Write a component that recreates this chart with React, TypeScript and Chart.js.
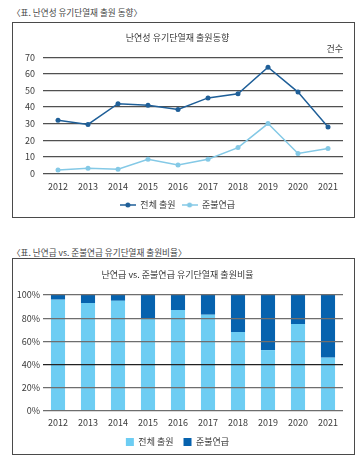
import React, { useEffect, useRef } from 'react';
import { Chart, registerables } from 'chart.js';

Chart.register(...registerables);

const years = ['2012', '2013', '2014', '2015', '2016', '2017', '2018', '2019', '2020', '2021'];
const totalFilings = [32, 29.5, 42, 41, 38.5, 45.5, 48, 64, 49, 28];
const quasiFilings = [2, 3, 2.5, 8.5, 5, 8.5, 15.5, 30, 12, 15];
const totalShare = [96, 93, 95, 80, 87, 83, 68, 52.5, 75, 46];
const quasiShare = [4, 7, 5, 20, 13, 17, 32, 47.5, 25, 54];

const seriesNames = ['전체 출원', '준불연급'];
const lineTitle = '난연성 유기단열재 출원동향';
const barTitle = '난연급 vs. 준불연급 유기단열재 출원비율';
const lineCaption = '〈표. 난연성 유기단열재 출원 동향〉';
const barCaption = '〈표. 난연급 vs. 준불연급 유기단열재 출원비율〉';
const unitLabel = '건수';

const FONT = "'Noto Sans CJK KR', 'Noto Sans', sans-serif";
const DARK_LINE = '#1f5f98';
const LIGHT_LINE = '#84c9e6';
const LIGHT_BAR = '#6dcdf3';
const DARK_BAR = '#0662ae';
const TEXT = '#3a3a3a';

function legendMarker(color: string): HTMLCanvasElement {
  const c = document.createElement('canvas');
  c.width = 16;
  c.height = 6;
  const ctx = c.getContext('2d')!;
  ctx.strokeStyle = color;
  ctx.lineWidth = 1.5;
  ctx.beginPath();
  ctx.moveTo(0, 3);
  ctx.lineTo(16, 3);
  ctx.stroke();
  ctx.fillStyle = color;
  ctx.beginPath();
  ctx.arc(8, 3, 2.5, 0, Math.PI * 2);
  ctx.fill();
  return c;
}

function LineChart() {
  const ref = useRef<HTMLCanvasElement | null>(null);
  useEffect(() => {
    if (!ref.current) return;
    const markers = [legendMarker(DARK_LINE), legendMarker(LIGHT_LINE)];
    const unitPlugin = {
      id: 'unitLabel',
      afterDraw(chart: any) {
        const { ctx, chartArea } = chart;
        ctx.save();
        ctx.font = `9px ${FONT}`;
        ctx.fillStyle = TEXT;
        ctx.textAlign = 'right';
        ctx.textBaseline = 'middle';
        ctx.fillText(unitLabel, chartArea.right, chartArea.top - 8.5);
        ctx.restore();
      },
    };
    const chart = new Chart(ref.current, {
      type: 'line',
      data: {
        labels: years,
        datasets: [
          {
            label: seriesNames[0],
            data: totalFilings,
            borderColor: DARK_LINE,
            backgroundColor: DARK_LINE,
            borderWidth: 1.5,
            pointRadius: 2.5,
            pointBorderWidth: 0,
            tension: 0,
          },
          {
            label: seriesNames[1],
            data: quasiFilings,
            borderColor: LIGHT_LINE,
            backgroundColor: LIGHT_LINE,
            borderWidth: 1.5,
            pointRadius: 2.5,
            pointBorderWidth: 0,
            tension: 0,
          },
        ],
      },
      options: {
        responsive: false,
        animation: false,
        devicePixelRatio: 1,
        layout: { padding: { left: 0, right: 13, top: 0, bottom: 3.5 } },
        plugins: {
          title: {
            display: true,
            text: lineTitle,
            color: TEXT,
            font: { family: FONT, size: 9, weight: 'normal' },
            padding: { top: 9.6, bottom: 13.9 },
          },
          legend: {
            position: 'bottom',
            labels: {
              color: TEXT,
              font: { family: FONT, size: 9 },
              usePointStyle: true,
              pointStyleWidth: 16,
              padding: 6,
              generateLabels: (c: any) => {
                const items = Chart.defaults.plugins.legend.labels.generateLabels(c);
                return items.map((it: any, i: number) => ({ ...it, pointStyle: markers[i] }));
              },
            },
          },
          tooltip: { enabled: false },
        },
        scales: {
          x: {
            offset: true,
            grid: { display: false, drawTicks: false },
            border: { display: false },
            ticks: { color: TEXT, font: { family: FONT, size: 9 }, padding: 8 },
            afterFit: (s: any) => { s.height = 21.2; },
          },
          y: {
            min: 0,
            max: 70,
            ticks: { stepSize: 10, color: TEXT, font: { family: FONT, size: 9 }, padding: 8 },
            grid: { color: '#505050', lineWidth: 1.3, drawTicks: false },
            border: { display: false },
            afterFit: (s: any) => { s.width = 31; },
          },
        },
      },
      plugins: [unitPlugin],
    } as any);
    return () => chart.destroy();
  }, []);
  return (
    <canvas
      ref={ref}
      width={344}
      height={200}
      style={{ position: 'absolute', left: 12, top: 23, width: 344, height: 200 }}
    />
  );
}

function BarChart() {
  const ref = useRef<HTMLCanvasElement | null>(null);
  useEffect(() => {
    if (!ref.current) return;
    const chart = new Chart(ref.current, {
      type: 'bar',
      data: {
        labels: years,
        datasets: [
          {
            label: seriesNames[0],
            data: totalShare,
            backgroundColor: LIGHT_BAR,
            barPercentage: 0.47,
            categoryPercentage: 1,
          },
          {
            label: seriesNames[1],
            data: quasiShare,
            backgroundColor: DARK_BAR,
            barPercentage: 0.47,
            categoryPercentage: 1,
          },
        ],
      },
      options: {
        responsive: false,
        animation: false,
        devicePixelRatio: 1,
        layout: { padding: { left: 0, right: 13, top: 0, bottom: 1.5 } },
        plugins: {
          title: {
            display: true,
            text: barTitle,
            color: TEXT,
            font: { family: FONT, size: 9, weight: 'normal' },
            padding: { top: 11.6, bottom: 14.6 },
          },
          legend: {
            position: 'bottom',
            labels: {
              color: TEXT,
              font: { family: FONT, size: 9 },
              boxWidth: 8,
              boxHeight: 8,
              padding: 10,
            },
          },
          tooltip: { enabled: false },
        },
        scales: {
          x: {
            stacked: true,
            grid: { display: false, drawTicks: false },
            border: { display: false },
            ticks: { color: TEXT, font: { family: FONT, size: 9 }, padding: 6.6 },
            afterFit: (s: any) => { s.height = 16.5; },
          },
          y: {
            stacked: true,
            min: 0,
            max: 100,
            ticks: {
              stepSize: 20,
              color: TEXT,
              font: { family: FONT, size: 9 },
              padding: 3,
              callback: (v: any) => `${v}%`,
            },
            grid: {
              color: (ctx: any) => (ctx.tick && ctx.tick.value === 40 ? '#222222' : '#6e6e6e'),
              lineWidth: 1.2,
              drawTicks: false,
              z: 1,
            },
            border: { display: false },
            afterFit: (s: any) => { s.width = 31; },
          },
        },
      },
    } as any);
    return () => chart.destroy();
  }, []);
  return (
    <canvas
      ref={ref}
      width={344}
      height={200}
      style={{ position: 'absolute', left: 12, top: 258, width: 344, height: 200 }}
    />
  );
}

const captionStyle: React.CSSProperties = {
  position: 'absolute',
  left: 12,
  fontFamily: FONT,
  fontSize: 8.6,
  lineHeight: '10px',
  color: '#444',
  whiteSpace: 'nowrap',
};

const boxStyle: React.CSSProperties = {
  position: 'absolute',
  left: 12,
  width: 343,
  border: '1px solid #4a4a4a',
  boxSizing: 'border-box',
};

export default function App() {
  return (
    <div style={{ position: 'absolute', left: 0, top: 0, width: 363, height: 464, background: '#fff', overflow: 'hidden' }}>
      <div style={{ ...captionStyle, top: 7 }}>{lineCaption}</div>
      <div style={{ ...boxStyle, top: 22, height: 196 }} />
      <LineChart />
      <div style={{ ...captionStyle, top: 247 }}>{barCaption}</div>
      <div style={{ ...boxStyle, top: 258, height: 197 }} />
      <BarChart />
    </div>
  );
}
